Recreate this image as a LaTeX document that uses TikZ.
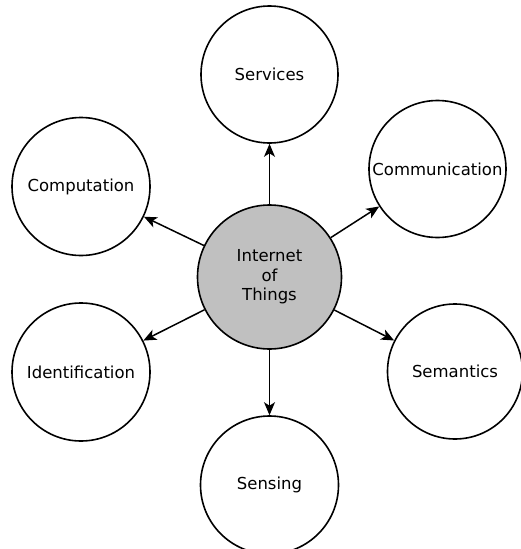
\documentclass[tikz,border=0pt]{standalone}
\usepackage{fontspec}
\setmainfont{DejaVu Sans}
\usetikzlibrary{arrows.meta}
\definecolor{hubgray}{RGB}{192,192,192}
\begin{document}
\begin{tikzpicture}[x=1pt,y=-1pt,
  every node/.style={font=\fontsize{16.5}{19.5}\selectfont},
  topic/.style={circle,draw=black,line width=1.6pt,fill=white,inner sep=0pt,minimum size=137pt,align=center},
  hub/.style={circle,draw=black,line width=1.6pt,fill=hubgray,inner sep=0pt,minimum size=144pt,align=center},
  link/.style={line width=1.5pt,-{Stealth[length=13pt,width=11pt,inset=3.5pt]}}]
\useasboundingbox (0,0) rectangle (521,549);
\node[hub] (iot) at (269.5,277) {Internet\\of\\Things};
\node[topic] (services) at (269.5,74.5) {Services};
\node[topic] (comm) at (437.5,169) {Communication};
\node[topic,minimum size=138pt] (comp) at (81,186.5) {Computation};
\node[topic,minimum size=138pt] (ident) at (81,372) {Identification};
\node[topic,minimum size=135pt] (sem) at (455,371.5) {Semantics};
\node[topic,minimum size=138pt] (sens) at (269.5,485) {Sensing};
\draw[link] (iot) -- (services);
\draw[link] (iot) -- (comm);
\draw[link] (iot) -- (comp);
\draw[link] (iot) -- (ident);
\draw[link] (iot) -- (sem);
\draw[link] (iot) -- (sens);
\end{tikzpicture}
\end{document}
